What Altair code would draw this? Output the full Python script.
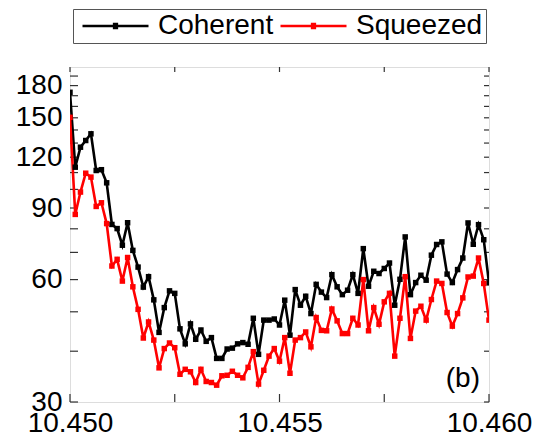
import altair as alt
import pandas as pd

# ---- data ----
x_vals = [
    10.450000, 10.450125, 10.450250, 10.450375, 10.450500, 10.450625, 10.450750, 10.450875, 10.451000, 10.451125,
    10.451250, 10.451375, 10.451500, 10.451625, 10.451750, 10.451875, 10.452000, 10.452125, 10.452250, 10.452375,
    10.452500, 10.452625, 10.452750, 10.452875, 10.453000, 10.453125, 10.453250, 10.453375, 10.453500, 10.453625,
    10.453750, 10.453875, 10.454000, 10.454125, 10.454250, 10.454375, 10.454500, 10.454625, 10.454750, 10.454875,
    10.455000, 10.455125, 10.455250, 10.455375, 10.455500, 10.455625, 10.455750, 10.455875, 10.456000, 10.456125,
    10.456250, 10.456375, 10.456500, 10.456625, 10.456750, 10.456875, 10.457000, 10.457125, 10.457250, 10.457375,
    10.457500, 10.457625, 10.457750, 10.457875, 10.458000, 10.458125, 10.458250, 10.458375, 10.458500, 10.458625,
    10.458750, 10.458875, 10.459000, 10.459125, 10.459250, 10.459375, 10.459500, 10.459625, 10.459750, 10.459875,
    10.460000,
]

coherent = [
    173.3, 113.4, 127.0, 131.9, 137.0, 111.3, 111.8, 103.8, 82.0, 80.1,
    72.9, 82.8, 70.8, 64.4, 57.5, 61.0, 53.5, 44.5, 51.2, 56.3,
    55.5, 45.4, 41.7, 46.7, 42.8, 45.1, 42.3, 43.2, 38.4, 38.4,
    40.5, 40.7, 41.7, 42.0, 41.6, 48.2, 39.3, 47.7, 47.7, 48.0,
    46.4, 53.4, 43.8, 56.7, 51.9, 54.6, 49.5, 58.4, 55.9, 54.2,
    61.7, 57.6, 55.1, 56.5, 61.7, 55.5, 71.5, 57.8, 62.9, 62.1,
    63.9, 65.9, 51.9, 60.1, 76.4, 55.1, 59.0, 61.5, 59.8, 68.9,
    73.2, 74.3, 61.9, 59.0, 63.5, 67.8, 82.7, 73.3, 81.9, 75.2,
    58.9,
]

squeezed = [
    150.4, 86.8, 98.5, 109.6, 107.2, 90.8, 92.7, 82.4, 64.8, 67.3,
    59.5, 68.0, 57.6, 50.7, 43.1, 47.2, 42.6, 36.4, 40.6, 41.9,
    40.8, 35.1, 36.1, 35.6, 33.5, 36.1, 33.7, 33.5, 33.0, 34.8,
    34.9, 35.7, 34.9, 34.4, 36.5, 39.9, 33.2, 35.9, 38.9, 40.6,
    37.8, 43.2, 35.3, 42.6, 43.2, 44.6, 41.0, 48.4, 45.0, 44.9,
    50.8, 47.5, 44.2, 44.2, 48.2, 46.4, 60.0, 44.9, 51.2, 46.6,
    52.9, 55.5, 38.9, 48.2, 61.0, 43.0, 50.2, 51.6, 47.7, 53.6,
    59.5, 58.7, 49.8, 46.1, 49.5, 54.1, 60.9, 61.2, 67.8, 58.7,
    47.7,
]

series_names = ["Coherent", "Squeezed"]
series_colors = ["#000000", "#ff0000"]

y_major = [30, 60, 90, 120, 150, 180]
y_minor = [40, 50, 70, 80, 100, 110, 130, 140, 160, 170, 190]
x_major = [10.450, 10.455, 10.460]
x_minor = [10.4525, 10.4575]
y_domain = [30, 200]
x_domain = [10.450, 10.460]
panel_label = "(b)"

# ---- build tables ----
rows = []
for name, vals in zip(series_names, [coherent, squeezed]):
    for xv, yv in zip(x_vals, vals):
        rows.append({"x": xv, "y": yv, "series": name})
df = pd.DataFrame(rows)

yt = pd.DataFrame({"v": y_major + y_minor})
xt = pd.DataFrame({"v": x_major + x_minor})

W, H = 419, 335
FONT = "Liberation Sans"

xscale = alt.Scale(domain=x_domain, nice=False, zero=False)
yscale = alt.Scale(type="log", domain=y_domain, nice=False)
cscale = alt.Scale(domain=series_names, range=series_colors)

legend_path = ("M-1,0H1"
               "M-0.08,-0.06H0.08M-0.08,-0.03H0.08M-0.08,0H0.08"
               "M-0.08,0.03H0.08M-0.08,0.06H0.08")

base = alt.Chart(df)

lines = base.mark_line(strokeWidth=2.6, clip=True).encode(
    x=alt.X("x:Q", scale=xscale,
            axis=alt.Axis(values=x_major, format=".3f", title=None, ticks=False,
                          domain=False, grid=False, labelFontSize=28,
                          labelPadding=7, labelFont=FONT, labelColor="black",
                          labelOverlap=False, labelFlush=False)),
    y=alt.Y("y:Q", scale=yscale,
            axis=alt.Axis(values=y_major, format="d", title=None, ticks=False,
                          domain=False, grid=False, labelFontSize=28,
                          labelPadding=8, labelFont=FONT, labelColor="black",
                          labelOverlap=False, labelFlush=False)),
    color=alt.Color("series:N", scale=cscale,
                    legend=alt.Legend(title=None, orient="none", legendX=3, legendY=-58,
                                      direction="horizontal", columns=2,
                                      symbolType=legend_path, symbolSize=4356,
                                      symbolStrokeWidth=2.5, symbolOffset=5,
                                      labelFontSize=28, labelFont=FONT,
                                      labelColor="black", labelOffset=8,
                                      columnPadding=-4, padding=3, clipHeight=28,
                                      labelLimit=0, strokeColor="#555555",
                                      fillColor="white")),
    order="x:Q",
)

points = base.mark_square(size=30, opacity=1, clip=True).encode(
    x=alt.X("x:Q", scale=xscale),
    y=alt.Y("y:Q", scale=yscale),
    color=alt.Color("series:N", scale=cscale, legend=None),
)

tick_color = "#333333"
left_ticks = alt.Chart(yt).mark_rule(color=tick_color, strokeWidth=1.2).encode(
    y=alt.Y("v:Q", scale=yscale), x=alt.value(0), x2=alt.value(8))
right_ticks = alt.Chart(yt).mark_rule(color=tick_color, strokeWidth=1.2).encode(
    y=alt.Y("v:Q", scale=yscale), x=alt.value(W), x2=alt.value(W - 5))
bottom_ticks = alt.Chart(xt).mark_rule(color=tick_color, strokeWidth=1.2).encode(
    x=alt.X("v:Q", scale=xscale), y=alt.value(H), y2=alt.value(H - 8))
top_ticks = alt.Chart(xt).mark_rule(color=tick_color, strokeWidth=1.2).encode(
    x=alt.X("v:Q", scale=xscale), y=alt.value(0), y2=alt.value(5))

label = alt.Chart(pd.DataFrame({"t": [panel_label]})).mark_text(
    font=FONT, fontSize=28, align="right", baseline="alphabetic", color="black"
).encode(text="t:N", x=alt.value(W - 9), y=alt.value(H - 15))

chart = alt.layer(
    left_ticks, right_ticks, bottom_ticks, top_ticks, lines, points, label
).properties(
    width=W, height=H,
    autosize=alt.AutoSizeParams(type="none"),
    padding={"left": 70, "top": 67, "right": 48, "bottom": 34},
).configure_view(
    stroke="#666666", strokeWidth=1.5
).configure(background="white")

chart.save("out.html", embed_options={"renderer": "svg", "actions": False})
